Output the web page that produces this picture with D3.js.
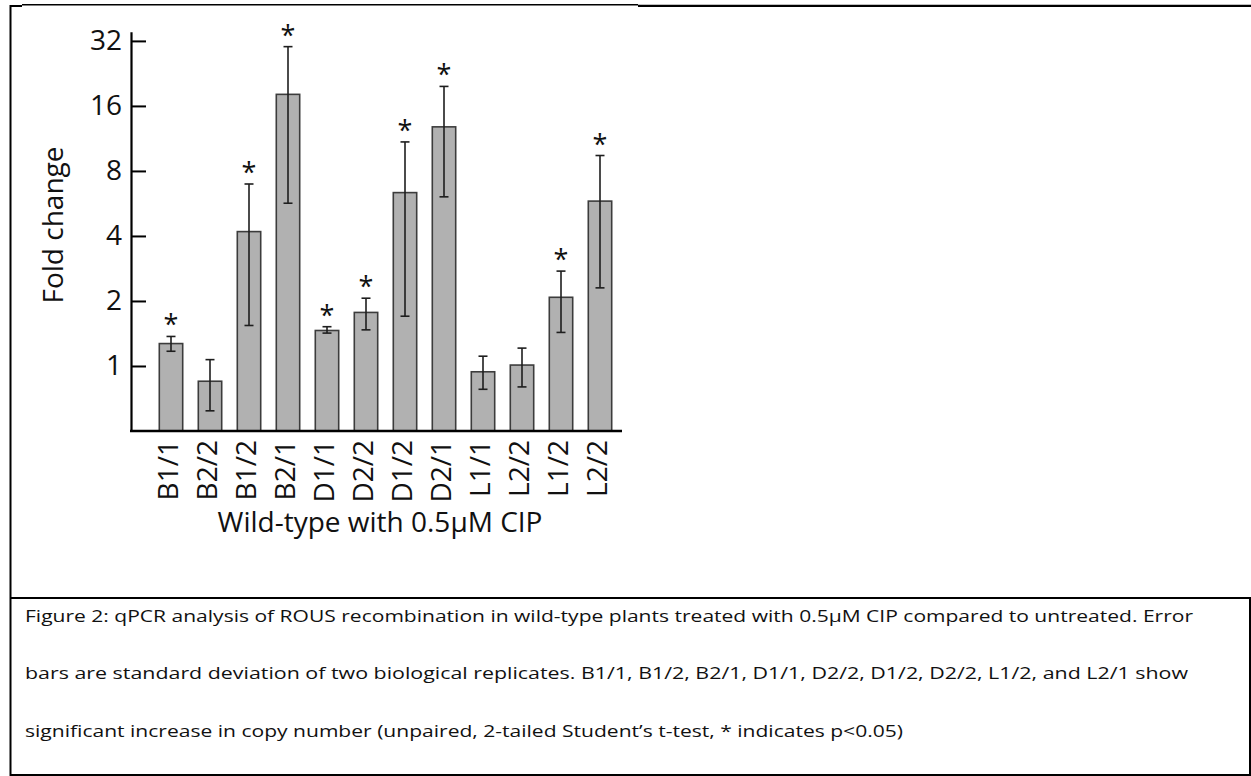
<!DOCTYPE html>
<html>
<head>
<meta charset="utf-8">
<script src="https://cdn.jsdelivr.net/npm/d3@7"></script>
<style>
  body { margin: 0; background: #fff; }
  text { font-family: "Open Sans", sans-serif; fill: #111; }
  .bar { fill: #b1b1b1; stroke: #3c3c3c; stroke-width: 1.6; }
  .err { stroke: #1e1e1e; stroke-width: 1.6; fill: none; }
  .frame { stroke: #000; fill: none; }
</style>
</head>
<body>
<div id="chart-holder"></div>
<script>
// chart data
var categories = ["B1/1", "B2/2", "B1/2", "B2/1", "D1/1", "D2/2", "D1/2", "D2/1", "L1/1", "L2/2", "L1/2", "L2/2"];
var foldChange = [1.27, 0.85, 4.19, 18.1, 1.46, 1.77, 6.35, 12.8, 0.94, 1.01, 2.08, 5.8];
var errUpper = [1.37, 1.07, 6.96, 30.1, 1.52, 2.06, 10.9, 19.7, 1.11, 1.21, 2.75, 9.43];
var errLower = [1.17, 0.62, 1.54, 5.67, 1.42, 1.47, 1.70, 6.07, 0.78, 0.80, 1.43, 2.3];
var significant = [true, false, true, true, true, true, true, true, false, false, true, true];
var yTicks = [1, 2, 4, 8, 16, 32];
var yDomain = [0.5, 35.3];

var xTitle = "Wild-type with 0.5\u00b5M CIP";
var yTitle = "Fold change";
var captionLines = [
  "Figure 2: qPCR analysis of ROUS recombination in wild-type plants treated with 0.5\u00b5M CIP compared to untreated. Error",
  "bars are standard deviation of two biological replicates. B1/1, B1/2, B2/1, D1/1, D2/2, D1/2, D2/2, L1/2, and L2/1 show",
  "significant increase in copy number (unpaired, 2-tailed Student\u2019s t-test, * indicates p<0.05)"
];
var captionWidths = [1168, 1163, 878];

var width = 1251;
var height = 776;

var svg = d3.select("#chart-holder")
  .append("svg")
  .attr('width', width)
  .attr('height', height);

// page frame lines around figure and caption
svg.append("path")
  .attr('class', 'frame')
  .attr('stroke-width', 2)
  .attr('d', "M10.5,776V6H22");
svg.append("line")
  .attr('class', 'frame')
  .attr('stroke-width', 1.5)
  .attr('x1', 22).attr('x2', 638)
  .attr('y1', 4.75).attr('y2', 4.75);
svg.append("line")
  .attr('class', 'frame')
  .attr('stroke-width', 2.2)
  .attr('x1', 638).attr('x2', width)
  .attr('y1', 5.8).attr('y2', 5.8);
svg.append("line")
  .attr('class', 'frame')
  .attr('stroke-width', 2)
  .attr('x1', 10).attr('x2', width)
  .attr('y1', 598).attr('y2', 598);
svg.append("line")
  .attr('class', 'frame')
  .attr('stroke-width', 2)
  .attr('x1', 10).attr('x2', width)
  .attr('y1', 775).attr('y2', 775);
svg.append("line")
  .attr('class', 'frame')
  .attr('stroke-width', 2)
  .attr('x1', 1250).attr('x2', 1250)
  .attr('y1', 598).attr('y2', 776);

// one record per bar, keeps the original index
var rows = categories.map(function(c, i) {
  return {
    index: i,
    label: c,
    value: foldChange[i],
    upper: errUpper[i],
    lower: errLower[i],
    star: significant[i]
  };
});

// scales
var axisLeftX = 131;
var baseY = 431;
var x = d3.scaleBand()
  .domain(d3.range(categories.length))
  .range([151.5, 619.5])
  .paddingInner(0.4)
  .paddingOuter(0.2);

var y = d3.scaleLog()
  .base(2)
  .domain(yDomain)
  .range([baseY, 31.7]);

var xMid = function(d) { return x(d.index) + x.bandwidth() / 2; };

// y axis, ticks pointing into the plot
var yAxis = d3.axisLeft(y)
  .tickValues(yTicks)
  .tickFormat(d3.format("d"))
  .tickSizeInner(-15)
  .tickSizeOuter(0)
  .tickPadding(9);

var yAxisG = svg.append("g")
  .attr('transform', "translate(" + axisLeftX + ",0)")
  .call(yAxis);
yAxisG.select(".domain").attr('stroke', '#000').attr('stroke-width', 2.2);
yAxisG.selectAll(".tick line").attr('stroke', '#000').attr('stroke-width', 2);
yAxisG.selectAll(".tick text")
  .attr('font-family', '"Open Sans", sans-serif')
  .attr('font-size', 28)
  .attr('fill', '#111');

// bars
svg.selectAll("rect.bar")
  .data(rows)
  .enter()
  .append("rect")
  .attr('class', 'bar')
  .attr('x', function(d) { return x(d.index); })
  .attr('y', function(d) { return y(d.value); })
  .attr('width', x.bandwidth())
  .attr('height', function(d) { return baseY - y(d.value); });

// error bars
var capHalf = 4.5;
var errG = svg.selectAll("g.errbar")
  .data(rows)
  .enter()
  .append("g")
  .attr('class', 'errbar')
  .attr('transform', function(d) { return "translate(" + xMid(d) + ",0)"; });
errG.append("line")
  .attr('class', 'err')
  .attr('y1', function(d) { return y(d.upper); })
  .attr('y2', function(d) { return y(d.lower); });
errG.append("line")
  .attr('class', 'err')
  .attr('x1', -capHalf).attr('x2', capHalf)
  .attr('y1', function(d) { return y(d.upper); })
  .attr('y2', function(d) { return y(d.upper); });
errG.append("line")
  .attr('class', 'err')
  .attr('x1', -capHalf).attr('x2', capHalf)
  .attr('y1', function(d) { return y(d.lower); })
  .attr('y2', function(d) { return y(d.lower); });

// significance stars
svg.selectAll("text.star")
  .data(rows.filter(function(d) { return d.star; }))
  .enter()
  .append("text")
  .attr('class', 'star')
  .attr('text-anchor', 'middle')
  .attr('font-size', 27)
  .attr('x', xMid)
  .attr('y', function(d) { return y(d.upper) - 2; })
  .text("*");

// x axis baseline
svg.append("line")
  .attr('stroke', '#000')
  .attr('stroke-width', 2.5)
  .attr('x1', axisLeftX - 1).attr('x2', 622)
  .attr('y1', baseY).attr('y2', baseY);

// rotated category labels
svg.selectAll("text.cat")
  .data(rows)
  .enter()
  .append("text")
  .attr('class', 'cat')
  .attr('text-anchor', 'end')
  .attr('font-size', 28)
  .attr('dy', 7)
  .attr('transform', function(d) {
    return "translate(" + xMid(d) + ",440) rotate(-90)";
  })
  .text(function(d) { return d.label; });

// axis titles
svg.append("text")
  .attr('text-anchor', 'middle')
  .attr('font-size', 28)
  .attr('x', 380)
  .attr('y', 532)
  .text(xTitle);

svg.append("text")
  .attr('text-anchor', 'middle')
  .attr('font-size', 28)
  .attr('transform', "translate(63,225) rotate(-90)")
  .text(yTitle);

// caption below the figure
svg.selectAll("text.caption")
  .data(captionLines)
  .enter()
  .append("text")
  .attr('class', 'caption')
  .attr('font-size', 17)
  .attr('x', 25)
  .attr('y', function(d, i) { return 621.5 + i * 57.7; })
  .attr('textLength', function(d, i) { return captionWidths[i]; })
  .attr('lengthAdjust', 'spacingAndGlyphs')
  .text(function(d) { return d; });
</script>
</body>
</html>
